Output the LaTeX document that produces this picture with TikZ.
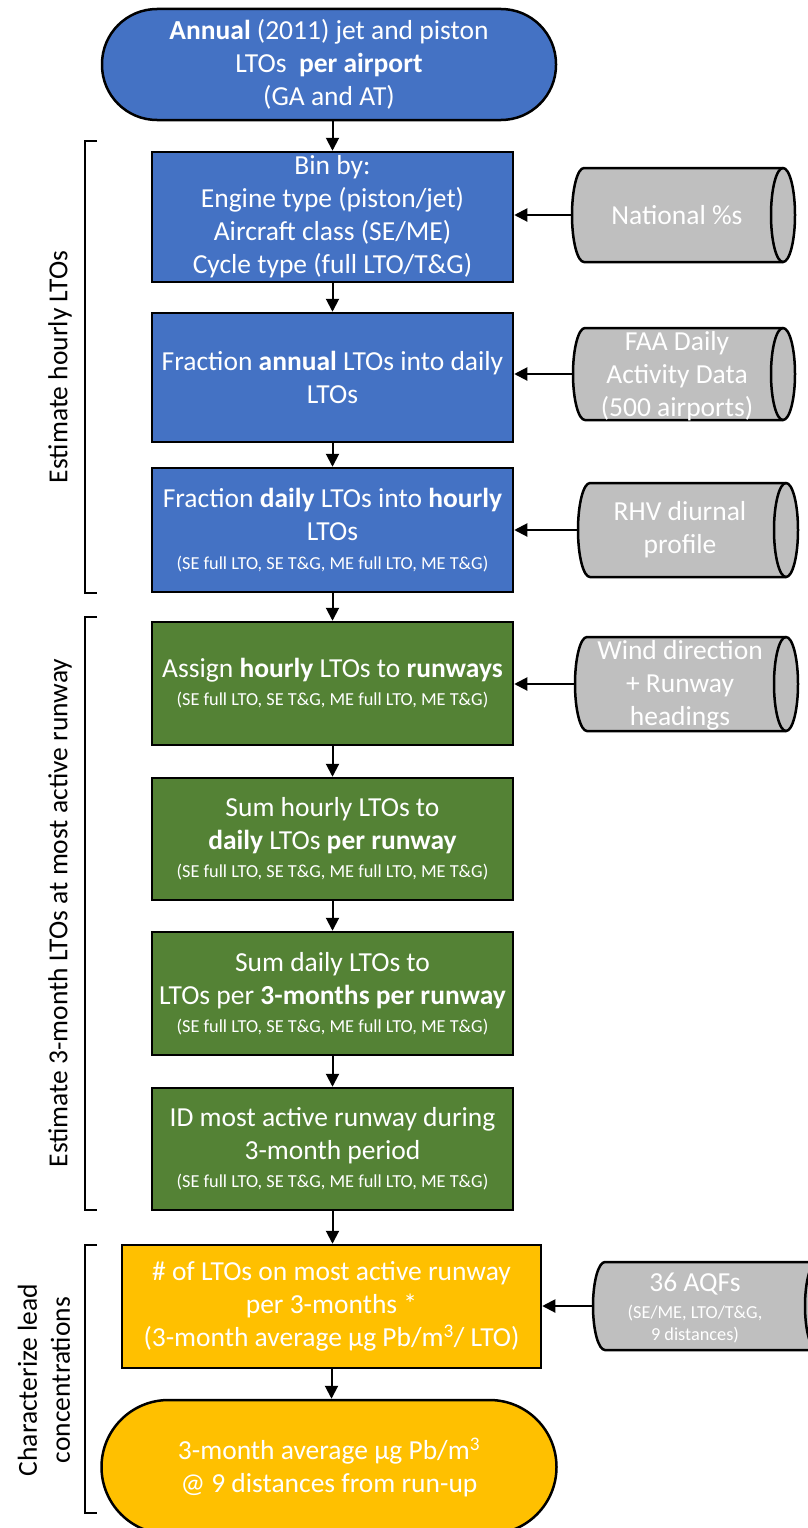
\documentclass[tikz,border=0pt]{standalone}
\usepackage{fontspec}
\setmainfont{Carlito}
\usetikzlibrary{arrows.meta}
\definecolor{cblue}{HTML}{4472C4}
\definecolor{cgreen}{HTML}{548235}
\definecolor{cyell}{HTML}{FFC000}
\definecolor{cgray}{HTML}{BFBFBF}
\newcommand\bigf{\fontsize{27.5}{33}\selectfont}
\newcommand\smf{\fontsize{18.3}{20}\selectfont}
\newcommand\mycyl[4]{%
  \pgfmathsetmacro\ry{(#4-#3)/2}%
  \draw[cylshape] ({#1+12},#3) arc[start angle=90,end angle=270,x radius=12pt,y radius=\ry pt]
     -- ({#2-12},#4) arc[start angle=-90,end angle=90,x radius=12pt,y radius=\ry pt] -- cycle;
  \draw[cylline] ({#2-12},#3) arc[start angle=90,end angle=270,x radius=12pt,y radius=\ry pt];
}
\begin{document}
\begin{tikzpicture}[x=1pt,y=-1pt,
  box/.style={draw=black, line width=2.5pt, text=white, align=center, inner sep=0pt,
    font=\bigf, minimum width=361pt},
  term/.style={draw=black, line width=2.5pt, text=white, align=center, inner sep=0pt, font=\bigf},
  arr/.style={line width=2pt, -{Triangle[length=13pt,width=13pt]}},
  cylshape/.style={draw=black, line width=2.5pt, fill=cgray},
  cylline/.style={draw=black, line width=2.5pt},
  cyltext/.style={text=white, align=center, inner sep=0pt, font=\bigf},
  brk/.style={draw=black, line width=1.3pt},
  lab/.style={rotate=90, align=center, font=\bigf, inner sep=0pt}]
\useasboundingbox (0,0) rectangle (807,1528);

% main column
\node[term, fill=cblue, minimum width=454pt, minimum height=111pt, rounded corners=55pt] (t0) at (329,64.5)
  {\textbf{Annual} (2011) jet and piston\\LTOs~ \textbf{per airport}\\(GA and AT)};
\node[box, fill=cblue, minimum height=130pt] (b1) at (332.5,217)
  {Bin by:\\Engine type (piston/jet)\\Aircraft class (SE/ME)\\Cycle type (full LTO/T\&G)};
\node[box, fill=cblue, minimum height=129pt] (b2) at (332.5,377.5)
  {Fraction \textbf{annual} LTOs into daily\\LTOs};
\node[box, fill=cblue, minimum height=124pt] (b3) at (332.5,530)
  {Fraction \textbf{daily} LTOs into \textbf{hourly}\\LTOs\\[-4pt]{\smf (SE full LTO, SE T\&G, ME full LTO, ME T\&G)}};
\node[box, fill=cgreen, minimum height=123pt] (b4) at (332.5,683.5)
  {Assign \textbf{hourly} LTOs to \textbf{runways}\\[-5pt]{\smf (SE full LTO, SE T\&G, ME full LTO, ME T\&G)}};
\node[box, fill=cgreen, minimum height=122pt] (b5) at (332.5,839)
  {Sum hourly LTOs to\\\textbf{daily} LTOs \textbf{per runway}\\[-5pt]{\smf (SE full LTO, SE T\&G, ME full LTO, ME T\&G)}};
\node[box, fill=cgreen, minimum height=123pt] (b6) at (332.5,993.5)
  {Sum daily LTOs to\\LTOs per \textbf{3-months per runway}\\[-5pt]{\smf (SE full LTO, SE T\&G, ME full LTO, ME T\&G)}};
\node[box, fill=cgreen, minimum height=122pt] (b7) at (332.5,1149)
  {ID most active runway during\\3-month period\\[-5pt]{\smf (SE full LTO, SE T\&G, ME full LTO, ME T\&G)}};
\node[box, fill=cyell, minimum width=419pt, minimum height=123pt] (b8) at (331.5,1306.5)
  {\# of LTOs on most active runway\\per 3-months *\\(3-month average µg Pb/m\textsuperscript{3}/ LTO)};
\node[term, fill=cyell, minimum width=455pt, minimum height=134pt, rounded corners=67pt] (t9) at (329,1467)
  {3-month average µg Pb/m\textsuperscript{3}\\@ 9 distances from run-up};

\draw[arr] (t0.south -| b1.north) -- (b1.north);
\draw[arr] (b1) -- (b2);
\draw[arr] (b2) -- (b3);
\draw[arr] (b3) -- (b4);
\draw[arr] (b4) -- (b5);
\draw[arr] (b5) -- (b6);
\draw[arr] (b6) -- (b7);
\draw[arr] (b7.south) -- (b7.south |- b8.north);
\draw[arr] (b8.south) -- (b8.south |- t9.north);

% cylinders
\mycyl{572}{795}{168}{262}
\node[cyltext] (d1) at (677,215) {National \%s};
\coordinate (c1) at (572,215);
\mycyl{573}{795}{328}{420}
\node[cyltext] (d2) at (677,376) {FAA Daily\\Activity Data\\(500 airports)};
\coordinate (c2) at (573,374);
\mycyl{578}{798}{483}{577}
\node[cyltext] (d3) at (680,530) {RHV diurnal\\profile};
\coordinate (c3) at (578,530);
\mycyl{575}{798}{637}{731}
\node[cyltext] (d4) at (680,685) {Wind direction\\+ Runway\\headings};
\coordinate (c4) at (575,684);
\mycyl{593}{829}{1262}{1350}
\node[cyltext] (d5) at (695,1308) {36 AQFs\\[-6pt]{\smf (SE/ME, LTO/T\&G,}\\[-11pt]{\smf 9 distances)}};
\coordinate (c5) at (593,1306);

\draw[arr] (c1) -- (c1 -| b1.east);
\draw[arr] (c2) -- (c2 -| b2.east);
\draw[arr] (c3) -- (c3 -| b3.east);
\draw[arr] (c4) -- (c4 -| b4.east);
\draw[arr] (c5) -- (c5 -| b8.east);

% brackets
\draw[brk] (97,141) -- (85,141) -- (85,593) -- (97,593);
\draw[brk] (97,617) -- (85,617) -- (85,1210) -- (97,1210);
\draw[brk] (97,1245) -- (85,1245) -- (85,1513) -- (97,1513);
\node[lab] (l1) at (60,367) {Estimate hourly LTOs};
\node[lab] (l2) at (60,913) {Estimate 3-month LTOs at most active runway};
\node[lab] (l3) at (44,1380) {Characterize lead\\concentrations};
\end{tikzpicture}
\end{document}
